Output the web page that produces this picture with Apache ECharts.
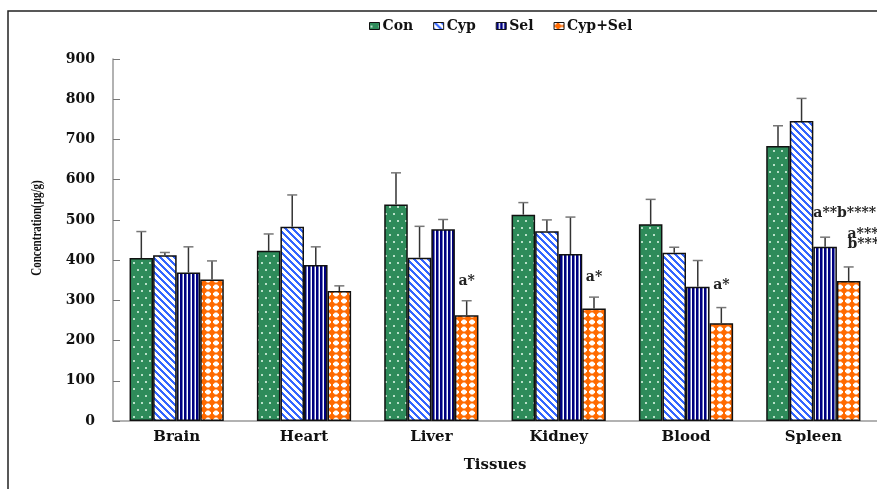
<!DOCTYPE html>
<html>
<head>
<meta charset="utf-8">
<script src="https://cdn.jsdelivr.net/npm/echarts@6/dist/echarts.min.js"></script>
<style>html,body{margin:0;padding:0;background:#fff}#c{width:877px;height:489px}</style>
</head>
<body>
<div id="c"></div>
<script>
// ---- data ----
const categories = ['Brain', 'Heart', 'Liver', 'Kidney', 'Blood', 'Spleen'];
const seriesNames = ['Con', 'Cyp', 'Sel', 'Cyp+Sel'];
const conValues = [405, 423, 538, 513, 489, 684];
const conErrors = [66, 42, 79, 30, 62, 50];
const cypValues = [412, 483, 406, 472, 418, 746];
const cypErrors = [7, 79, 78, 28, 14, 56];
const selValues = [369, 388, 477, 415, 334, 433];
const selErrors = [64, 45, 24, 92, 65, 24];
const cypSelValues = [352, 323, 263, 280, 243, 348];
const cypSelErrors = [46, 13, 36, 28, 39, 35];
const yTicks = [0, 100, 200, 300, 400, 500, 600, 700, 800, 900];
// annotations: category, position (in bar widths from group's left edge), value, text, align
const annotCats = ['Liver', 'Kidney', 'Blood', 'Spleen', 'Spleen', 'Spleen'];
const annotPos = [3.5, 3.5, 3.5, 2.0, 3.45, 3.45];
const annotValues = [346, 358, 336, 515, 465, 438];
const annotTexts = ['a*', 'a*', 'a*', 'a**b****', 'a***', 'b***'];
const annotAlign = ['center', 'center', 'center', 'left', 'left', 'left'];

// ---- patterns ----
function makePattern(w, h, draw) {
  const c = document.createElement('canvas');
  c.width = w; c.height = h;
  const ctx = c.getContext('2d');
  draw(ctx, w, h);
  return { image: c, repeat: 'repeat' };
}
const patCon = makePattern(8, 14, (ctx, w, h) => {
  ctx.fillStyle = '#2E8B5A'; ctx.fillRect(0, 0, w, h);
  ctx.fillStyle = '#b8e0c8';
  ctx.fillRect(1, 3, 2, 2);
  ctx.fillRect(5, 10, 2, 2);
});
const patCyp = makePattern(7, 7, (ctx, w, h) => {
  ctx.fillStyle = '#ffffff'; ctx.fillRect(0, 0, w, h);
  ctx.fillStyle = '#3366FF';
  for (let y = 0; y < h; y++) for (let x = 0; x < w; x++) {
    if ((((x - y) % w) + w) % w < 3) ctx.fillRect(x, y, 1, 1);
  }
});
const patSel = makePattern(4, 4, (ctx, w, h) => {
  ctx.fillStyle = '#ffffff'; ctx.fillRect(0, 0, w, h);
  ctx.fillStyle = '#000080'; ctx.fillRect(0, 0, 2, h);
  ctx.fillStyle = '#7078c0'; ctx.fillRect(2, 0, 1, h);
});
const patCypSel = makePattern(8, 7, (ctx, w, h) => {
  ctx.fillStyle = '#ffffff'; ctx.fillRect(0, 0, w, h);
  ctx.fillStyle = '#FF6A00';
  ctx.beginPath(); ctx.arc(4, 3.5, 2.8, 0, Math.PI * 2); ctx.fill();
  ctx.fillRect(0, 2.5, 8, 2);
  ctx.fillRect(3, 0, 2, 7);
});
const patterns = [patCon, patCyp, patSel, patCypSel];
const valuesList = [conValues, cypValues, selValues, cypSelValues];
const errorsList = [conErrors, cypErrors, selErrors, cypSelErrors];

const GAP = 0.26;
const FONT = 'DejaVu Serif';

const series = [];
seriesNames.forEach((name, i) => {
  series.push({
    name: name,
    type: 'bar',
    data: valuesList[i],
    barGap: '0%',
    barCategoryGap: (GAP * 100) + '%',
    itemStyle: { color: patterns[i], borderColor: '#111', borderWidth: 1.5 },
    z: 2
  });
});
seriesNames.forEach((name, i) => {
  series.push({
    type: 'custom',
    name: name + ' err',
    z: 3,
    data: valuesList[i].map((v, k) => [k, v, errorsList[i][k]]),
    renderItem: function (params, api) {
      const k = api.value(0), v = api.value(1), e = api.value(2);
      const band = api.size([1, 0])[0];
      const bw = band * (1 - GAP) / 4;
      const cx = api.coord([k, 0])[0] - band * (1 - GAP) / 2 + bw * (i + 0.5);
      const y0 = api.coord([k, v])[1];
      const y1 = api.coord([k, v + e])[1];
      return {
        type: 'group',
        children: [
          { type: 'line', shape: { x1: cx, y1: y0, x2: cx, y2: y1 }, style: { stroke: '#333', lineWidth: 1.5 } },
          { type: 'line', shape: { x1: cx - 5, y1: y1, x2: cx + 5, y2: y1 }, style: { stroke: '#777', lineWidth: 1.5 } }
        ]
      };
    },
    silent: true
  });
});
series.push({
  type: 'custom',
  name: 'annotations',
  z: 4,
  silent: true,
  data: annotCats.map((c, j) => [categories.indexOf(c), annotValues[j], annotPos[j], j]),
  renderItem: function (params, api) {
    const k = api.value(0), v = api.value(1), pos = api.value(2), j = api.value(3);
    const band = api.size([1, 0])[0];
    const bw = band * (1 - GAP) / 4;
    const x = api.coord([k, 0])[0] - band * (1 - GAP) / 2 + bw * pos;
    const y = api.coord([k, v])[1];
    return {
      type: 'text',
      style: {
        x: x, y: y, text: annotTexts[j], textAlign: annotAlign[j], textVerticalAlign: 'middle',
        font: 'bold 14px "' + FONT + '"', fill: '#222'
      }
    };
  }
});

const chart = echarts.init(document.getElementById('c'), null, { renderer: 'canvas' });
chart.setOption({
  animation: false,
  backgroundColor: '#fff',
  grid: { left: 113, right: 0, top: 59, bottom: 68 },
  legend: {
    data: seriesNames,
    left: 364, top: 14,
    itemWidth: 10, itemHeight: 7, itemGap: 20,
    icon: 'rect',
    itemStyle: { borderColor: '#111', borderWidth: 1 },
    textStyle: { fontFamily: FONT, fontWeight: 'bold', fontSize: 14, color: '#111', padding: [0, 0, 0, -2] }
  },
  xAxis: {
    type: 'category',
    data: categories,
    axisLine: { lineStyle: { color: '#999', width: 1.5 } },
    axisTick: { inside: true, length: 4, lineStyle: { color: '#555' } },
    axisLabel: { fontFamily: FONT, fontWeight: 'bold', fontSize: 15, color: '#111', margin: 9 },
    name: 'Tissues', nameLocation: 'middle', nameGap: 37,
    nameTextStyle: { fontFamily: FONT, fontWeight: 'bold', fontSize: 15, color: '#111' }
  },
  yAxis: {
    type: 'value',
    min: yTicks[0], max: yTicks[yTicks.length - 1], interval: yTicks[1] - yTicks[0],
    axisLine: { show: true, lineStyle: { color: '#999', width: 1.5 } },
    axisTick: { show: true, inside: true, length: 7, lineStyle: { color: '#777' } },
    splitLine: { show: false },
    axisLabel: { fontFamily: FONT, fontWeight: 'bold', fontSize: 14, color: '#111', margin: 18 }
  },
  graphic: [
    { type: 'polyline', shape: { points: [[8, 489], [8, 11], [877, 11]] }, style: { stroke: '#222', lineWidth: 1.5, fill: null }, silent: true },
    { type: 'text', x: 37, y: 228, rotation: Math.PI / 2, scaleY: 1.35,
      style: { text: 'Concentration(μg/g)', font: 'bold 11px "Liberation Serif"', fill: '#111', textAlign: 'center', textVerticalAlign: 'middle' } }
  ],
  series: series
});
</script>
</body>
</html>
